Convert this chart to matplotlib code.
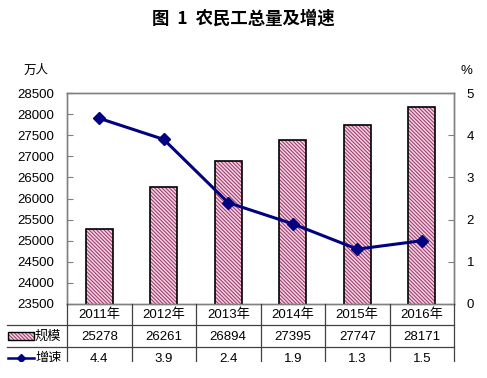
import matplotlib
matplotlib.use("Agg")
import matplotlib.pyplot as plt
from matplotlib.lines import Line2D
from matplotlib.patches import Rectangle

plt.rcParams['font.family'] = ['Liberation Sans', 'Noto Sans CJK SC', 'DejaVu Sans']
plt.rcParams['hatch.linewidth'] = 0.7

years = ['2011年', '2012年', '2013年', '2014年', '2015年', '2016年']
scale = [25278, 26261, 26894, 27395, 27747, 28171]
growth = [4.4, 3.9, 2.4, 1.9, 1.3, 1.5]
left_ticks = [23500, 24000, 24500, 25000, 25500, 26000, 26500, 27000, 27500, 28000, 28500]
right_ticks = [0, 1, 2, 3, 4, 5]

W, H = 487, 378
fig = plt.figure(figsize=(W / 100, H / 100), dpi=100)

def fx(px):
    return px / W

def fy(py):
    return 1 - py / H

L, R, T, B = 67, 454, 93, 304
ax = fig.add_axes([fx(L), fy(B), fx(R) - fx(L), fy(T) - fy(B)])
ax2 = ax.twinx()

x = list(range(len(years)))
hatch_col = '#993366'
face_col = '#f2cfe0'
hatch = '\\' * 9
ax.bar(x, scale, width=0.42, color=face_col, edgecolor=hatch_col, hatch=hatch, linewidth=0, zorder=2)
ax.bar(x, scale, width=0.42, color='none', edgecolor='black', linewidth=1.2, zorder=3)
ax.set_ylim(23500, 28500)
ax.set_xlim(-0.5, 5.5)
ax.set_yticks(left_ticks)
ax.set_xticks([])
ax.tick_params(axis='y', direction='in', length=4, color='#808080', labelsize=9.5, pad=9)

ax2.plot(x, growth, color='#000080', linewidth=2.2, marker='D', markersize=6, zorder=5)
ax2.set_ylim(0, 5)
ax2.set_yticks(right_ticks)
ax2.tick_params(axis='y', direction='in', length=4, color='#808080', labelsize=9.5, pad=9)
ax2.set_zorder(ax.get_zorder() + 1)
ax2.patch.set_visible(False)

for a in (ax, ax2):
    for s in a.spines.values():
        s.set_color('#808080')
        s.set_linewidth(1.0)

# title and unit labels
fig.text(0.5, fy(19), '图  1  农民工总量及增速', ha='center', va='center', fontsize=12.5,
         fontweight='bold', family=['Noto Sans CJK SC'])
fig.text(fx(36), fy(70), '万人', ha='center', va='center', fontsize=9, family=['Noto Sans CJK SC'])
fig.text(fx(466), fy(71), '%', ha='center', va='center', fontsize=9.5)

# data table below the plot
tcol = '#404040'
row_y = [304, 325, 347]
bottom = 362
cols = [L + (R - L) * i / 6 for i in range(7)]
for cx in cols:
    fig.add_artist(Line2D([fx(cx), fx(cx)], [fy(304), fy(bottom)], color=tcol, lw=0.9))
for ry in row_y[1:]:
    fig.add_artist(Line2D([fx(7), fx(R)], [fy(ry), fy(ry)], color=tcol, lw=0.9))

centers = [(cols[i] + cols[i + 1]) / 2 for i in range(6)]
for i in range(6):
    fig.text(fx(centers[i]), fy(315), years[i], ha='center', va='center', fontsize=9.5)
    fig.text(fx(centers[i]), fy(336.5), str(scale[i]), ha='center', va='center', fontsize=9.5)
    fig.text(fx(centers[i]), fy(359), str(growth[i]), ha='center', va='center', fontsize=9.5)

# legend keys in table
fig.add_artist(Rectangle((fx(8), fy(340)), fx(34) - fx(8), fy(332) - fy(340),
                         facecolor=face_col, edgecolor=hatch_col, hatch=hatch, lw=0,
                         transform=fig.transFigure))
fig.add_artist(Rectangle((fx(8), fy(340)), fx(34) - fx(8), fy(332) - fy(340),
                         facecolor='none', edgecolor='black', lw=1.0, transform=fig.transFigure))
fig.text(fx(35), fy(336.5), '规模', ha='left', va='center', fontsize=9.5, family=['Noto Sans CJK SC'])
fig.add_artist(Line2D([fx(8), fx(34)], [fy(358), fy(358)], color='#000080', lw=1.8))
fig.add_artist(Line2D([fx(21)], [fy(358)], color='#000080', marker='D', markersize=4.5, lw=0))
fig.text(fx(35), fy(358), '增速', ha='left', va='center', fontsize=9.5, family=['Noto Sans CJK SC'])

# image bottom is cropped in the reference
fig.add_artist(Rectangle((0, 0), 1, fy(362), facecolor='white', edgecolor='none',
                         transform=fig.transFigure, zorder=10))

fig.savefig('out.png', dpi=100)
